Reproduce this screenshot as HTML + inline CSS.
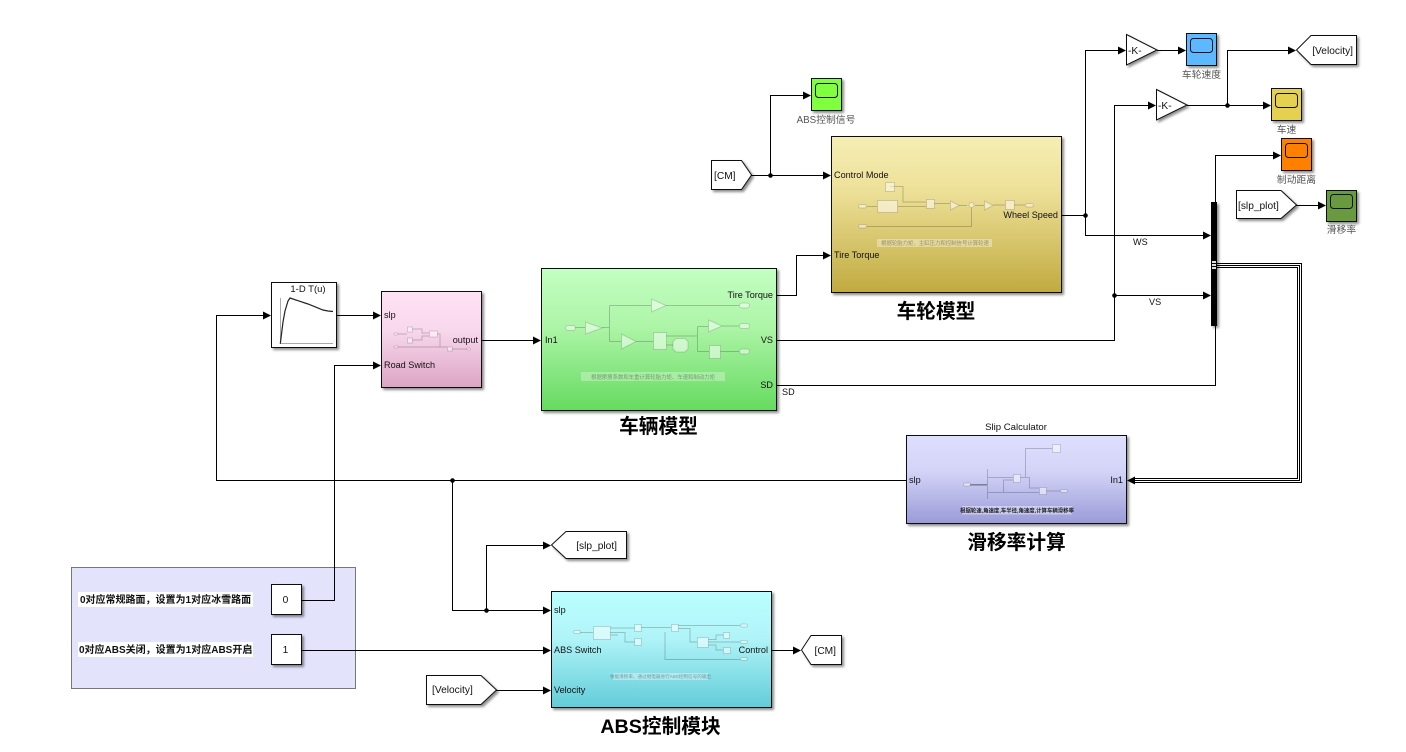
<!DOCTYPE html>
<html>
<head>
<meta charset="utf-8">
<style>
html,body{margin:0;padding:0;background:#fff;width:1406px;height:752px;overflow:hidden}
svg{display:block}
text{font-family:"Liberation Sans","Noto Sans CJK SC",sans-serif;font-size:9.1px;fill:#111}
.w{fill:none;stroke:#000;stroke-width:1}
.a{fill:#000;stroke:none}
.b{stroke:#111;stroke-width:1}
.k{font-size:10.2px}
.cap{font-size:9.8px;fill:#555;text-anchor:middle}
.title{font-size:19.7px;font-weight:bold;fill:#000;text-anchor:middle}
.note{font-size:10px;font-weight:bold;fill:#111}
.t{fill:#fff;fill-opacity:.5;stroke:#000;stroke-opacity:.14;stroke-width:1}
.tl{fill:none;stroke:#000;stroke-opacity:.2;stroke-width:1}
.mini{font-size:5.4px;fill:#000;fill-opacity:.35;text-anchor:middle}
</style>
</head>
<body>
<svg width="1406" height="752" viewBox="0 0 1406 752" xmlns="http://www.w3.org/2000/svg">
<defs>
<filter id="s" x="-10%" y="-10%" width="125%" height="125%">
<feDropShadow dx="2" dy="2" stdDeviation="1.4" flood-color="#000" flood-opacity=".45"/>
</filter>
<linearGradient id="gW" x1="0" y1="0" x2="0" y2="1"><stop offset="0" stop-color="#f5eeb4"/><stop offset=".35" stop-color="#ede098"/><stop offset="1" stop-color="#c0aa40"/></linearGradient>
<linearGradient id="gV" x1="0" y1="0" x2="0" y2="1"><stop offset="0" stop-color="#c2ffc2"/><stop offset=".4" stop-color="#aef5a8"/><stop offset="1" stop-color="#66da60"/></linearGradient>
<linearGradient id="gA" x1="0" y1="0" x2="0" y2="1"><stop offset="0" stop-color="#baffff"/><stop offset=".4" stop-color="#b0f4f8"/><stop offset="1" stop-color="#62ccd8"/></linearGradient>
<linearGradient id="gS" x1="0" y1="0" x2="0" y2="1"><stop offset="0" stop-color="#dedeff"/><stop offset=".4" stop-color="#d4d4f8"/><stop offset="1" stop-color="#9a9ad8"/></linearGradient>
<linearGradient id="gR" x1="0" y1="0" x2="0" y2="1"><stop offset="0" stop-color="#ffe2f4"/><stop offset=".4" stop-color="#f8d8ec"/><stop offset="1" stop-color="#dca4c4"/></linearGradient>
</defs>

<!-- panel -->
<rect x="71.5" y="567.5" width="284" height="121" fill="#e3e3fb" stroke="#777"/>
<rect x="78" y="592" width="175" height="15" fill="#fff"/>
<rect x="78" y="642" width="175" height="15" fill="#fff"/>
<text class="note" x="80" y="603">0对应常规路面，设置为1对应冰雪路面</text>
<text class="note" x="79" y="653">0对应ABS关闭，设置为1对应ABS开启</text>

<!-- blocks -->
<g filter="url(#s)">
<rect class="b" x="831.5" y="136.5" width="230" height="156" fill="url(#gW)"/>
<rect class="b" x="541.5" y="268.5" width="235" height="142" fill="url(#gV)"/>
<rect class="b" x="551.5" y="591.5" width="220" height="116" fill="url(#gA)"/>
<rect class="b" x="906.5" y="435.5" width="220" height="88" fill="url(#gS)"/>
<rect class="b" x="381.5" y="291.5" width="100" height="96" fill="url(#gR)"/>
<rect class="b" x="271.5" y="282.5" width="65" height="65" fill="#fff"/>
<rect class="b" x="271.5" y="584.5" width="30" height="30" fill="#fff"/>
<rect class="b" x="271.5" y="634.5" width="30" height="30" fill="#fff"/>
<rect class="b" x="811.5" y="78.5" width="30" height="32" fill="#80ff40"/>
<rect class="b" x="1186.5" y="33.5" width="30" height="32" fill="#5cb8ff"/>
<rect class="b" x="1271.5" y="88.5" width="30" height="32" fill="#e6d050"/>
<rect class="b" x="1281.5" y="138.5" width="30" height="32" fill="#ff8000"/>
<rect class="b" x="1326.5" y="190.5" width="30" height="31" fill="#6a9a40"/>
<polygon class="b" points="1126.5,34.5 1157,50 1126.5,65" fill="#fff"/>
<polygon class="b" points="1156.5,89.5 1187,105 1156.5,120" fill="#fff"/>
<polygon class="b" points="1296.5,50 1311,35.5 1356.5,35.5 1356.5,64.5 1311,64.5" fill="#fff"/>
<polygon class="b" points="1236.5,190.5 1281,190.5 1296.5,205 1281,218.5 1236.5,218.5" fill="#fff"/>
<polygon class="b" points="711.5,160.5 741.5,160.5 751.5,175 741.5,189.5 711.5,189.5" fill="#fff"/>
<polygon class="b" points="551.5,545 566,531.5 626.5,531.5 626.5,558.5 566,558.5" fill="#fff"/>
<polygon class="b" points="801.5,650 811,635.5 841.5,635.5 841.5,664.5 811,664.5" fill="#fff"/>
<polygon class="b" points="426.5,675.5 481,675.5 496.5,690 481,704.5 426.5,704.5" fill="#fff"/>
<rect x="1211" y="202" width="6" height="124" fill="#000"/>
</g>
<rect x="1212" y="261" width="4" height="2" fill="#ddd"/>
<rect x="1212" y="264" width="4" height="2" fill="#ddd"/>
<rect x="1212" y="267" width="4" height="2" fill="#ddd"/>

<!-- scope screens -->
<g fill="none" stroke="#111" stroke-width="1">
<rect x="815.5" y="83.5" width="22" height="14" rx="3" fill="#80ff40"/>
<rect x="1190.5" y="38.5" width="22" height="14" rx="3"/>
<rect x="1275.5" y="93.5" width="22" height="14" rx="3"/>
<rect x="1285.5" y="143.5" width="22" height="14" rx="3"/>
<rect x="1330.5" y="194.5" width="22" height="14" rx="3"/>
</g>

<!-- lookup plot -->
<path d="M280.5 298V343.5H333" fill="none" stroke="#aaa"/>
<path d="M280.3 343.7 L283 322 L285 311 L288 301 L290 298 L298 300.7 L308 304 L323 310 L328 311 L333 311.5" fill="none" stroke="#222" stroke-width="1.2"/>
<text x="308" y="292" text-anchor="middle" style="font-size:9.5px">1-D T(u)</text>

<!-- wires -->
<g class="w">
<path d="M336 315.5H375"/>
<path d="M906 480.5H216.5V315.5H265"/>
<path d="M452.5 480.5V610.5H545"/>
<path d="M486.5 610.5V545.5H545"/>
<path d="M301 600.5H334.5V365.5H375"/>
<path d="M301 650.5H545"/>
<path d="M496 690.5H545"/>
<path d="M771 650.5H795"/>
<path d="M481 340.5H535"/>
<path d="M776 295.5H796.5V255.5H825"/>
<path d="M751 175.5H825"/>
<path d="M770.5 175.5V95.5H805"/>
<path d="M1061 215.5H1085.5"/>
<path d="M1085.5 215.5V50.5H1120"/>
<path d="M1085.5 215.5V235.5H1205"/>
<path d="M776 340.5H1114.5V105.5H1150"/>
<path d="M1114.5 295.5H1205"/>
<path d="M776 385.5H1215.5V326"/>
<path d="M1215.5 202V155.5H1275"/>
<path d="M1157 50.5H1180"/>
<path d="M1187 105.5H1265"/>
<path d="M1227.5 105.5V50.5H1290"/>
<path d="M1296 205.5H1320"/>
<path d="M1217 263.5H1301.5V482.5H1134M1217 265.5H1299.5V480.5H1134M1217 267.5H1297.5V478.5H1134"/>
</g>
<g class="a">
<polygon points="381,315.5 373,311.5 373,319.5"/>
<polygon points="271,315.5 263,311.5 263,319.5"/>
<polygon points="381,365.5 373,361.5 373,369.5"/>
<polygon points="541,340.5 533,336.5 533,344.5"/>
<polygon points="551,610.5 543,606.5 543,614.5"/>
<polygon points="551,545.5 543,541.5 543,549.5"/>
<polygon points="551,650.5 543,646.5 543,654.5"/>
<polygon points="551,690.5 543,686.5 543,694.5"/>
<polygon points="801,650.5 793,646.5 793,654.5"/>
<polygon points="831,255.5 823,251.5 823,259.5"/>
<polygon points="831,175.5 823,171.5 823,179.5"/>
<polygon points="811,95.5 803,91.5 803,99.5"/>
<polygon points="1126,50.5 1118,46.5 1118,54.5"/>
<polygon points="1156,105.5 1148,101.5 1148,109.5"/>
<polygon points="1186,50.5 1178,46.5 1178,54.5"/>
<polygon points="1271,105.5 1263,101.5 1263,109.5"/>
<polygon points="1296,50.5 1288,46.5 1288,54.5"/>
<polygon points="1281,155.5 1273,151.5 1273,159.5"/>
<polygon points="1326,205.5 1318,201.5 1318,209.5"/>
<polygon points="1211,235.5 1203,231.5 1203,239.5"/>
<polygon points="1211,295.5 1203,291.5 1203,299.5"/>
<polygon points="1127,480.5 1135,476.5 1135,484.5"/>
<circle cx="452.5" cy="480.5" r="2.3"/>
<circle cx="486.5" cy="610.5" r="2.3"/>
<circle cx="770.5" cy="175.5" r="2.3"/>
<circle cx="1085.5" cy="215.5" r="2.3"/>
<circle cx="1114.5" cy="295.5" r="2.3"/>
<circle cx="1227.5" cy="105.5" r="2.3"/>
</g>

<!-- wheel thumbnail -->
<g>
<path class="tl" d="M867 206.5H877M898 206.5H926M890 186.5H903V202H926M934 203.5H950M959 205.5H967M975 205.5H984M993 205H1005M1014 205H1025M867 226.5H971.5V208"/>
<rect class="t" x="877.5" y="200.5" width="20" height="12"/>
<rect class="t" x="885.5" y="182.5" width="9" height="9"/>
<rect class="t" x="926.5" y="199.5" width="8" height="9"/>
<rect class="t" x="1005.5" y="200.5" width="9" height="9"/>
<polygon class="t" points="950.5,201 959,205.5 950.5,210"/>
<polygon class="t" points="984.5,201 993,205.5 984.5,210"/>
<circle class="t" cx="971.5" cy="205" r="2.5"/>
<rect class="t" x="858.5" y="204.5" width="8" height="3.5" rx="1.7"/>
<rect class="t" x="858.5" y="224.5" width="8" height="3.5" rx="1.7"/>
<rect class="t" x="1025.5" y="203.5" width="8" height="3.5" rx="1.7"/>
<rect x="877" y="239" width="115" height="8" fill="#fff" fill-opacity=".35"/>
<text class="mini" x="935" y="245">根据轮胎力矩、主缸压力和控制信号计算轮速</text>
</g>

<!-- vehicle thumbnail -->
<g>
<path class="tl" d="M575 327.5H585M602 327.5H609.5M609.5 305.5V341.5M609.5 305.5H651M609.5 341.5H621M666 305.5H739M636 341.5H653M666 336H697.5M666 345H673M697.5 326.5V351.5M697.5 326.5H708M697.5 351.5H709M722 326H739M720 351.5H739"/>
<rect class="t" x="653.5" y="332.5" width="13" height="17"/>
<polygon class="t" points="676,338.5 685,338.5 688,341.5 688,349 685,352 676,352 673,349 673,341.5"/>
<rect class="t" x="709.5" y="345.5" width="11" height="13"/>
<polygon class="t" points="585.5,322 602,328 585.5,334"/>
<polygon class="t" points="651.5,299 666,305.5 651.5,312"/>
<polygon class="t" points="621.5,334 636,341.5 621.5,349"/>
<polygon class="t" points="708.5,320 722,326 708.5,332"/>
<rect class="t" x="565.5" y="325.5" width="10" height="5" rx="2.5"/>
<rect class="t" x="739.5" y="303" width="10" height="5" rx="2.5"/>
<rect class="t" x="739.5" y="323.5" width="10" height="5" rx="2.5"/>
<rect class="t" x="739.5" y="349" width="10" height="5" rx="2.5"/>
<rect x="581" y="372" width="144" height="9" fill="#fff" fill-opacity=".3"/>
<text class="mini" x="653" y="379">根据摩擦系数和车重计算轮胎力矩、车速和制动力矩</text>
</g>

<!-- ABS thumbnail -->
<g>
<path class="tl" d="M580 632.5H593M610 628H635M610 632.5H625V642H635M610 635H618M641 627.5H671M678 625.5H740M678 628.5H690V642H697M708 639.5H716V635H723M708 642H740M708 645H716V650H723M665 632V659.5H740"/>
<rect class="t" x="593.5" y="626.5" width="17" height="13"/>
<rect class="t" x="634.5" y="624.5" width="7" height="7"/>
<rect class="t" x="634.5" y="638.5" width="7" height="7"/>
<rect class="t" x="671.5" y="624.5" width="7" height="7"/>
<rect class="t" x="697.5" y="637.5" width="11" height="10"/>
<rect class="t" x="723.5" y="632.5" width="6" height="6"/>
<rect class="t" x="723.5" y="647.5" width="7" height="6"/>
<rect class="t" x="573.5" y="630.5" width="7" height="3" rx="1.5"/>
<rect class="t" x="740.5" y="624" width="7" height="3" rx="1.5"/>
<rect class="t" x="740.5" y="640.5" width="7" height="3" rx="1.5"/>
<rect class="t" x="740.5" y="657.5" width="7" height="3" rx="1.5"/>
<rect x="613" y="673" width="95" height="7" fill="#fff" fill-opacity=".35"/>
<text class="mini" x="660.5" y="678" style="font-size:4.6px">根据滑移率、通过继电器进行ABS控制信号的输出</text>
</g>

<!-- slip thumbnail -->
<g>
<path class="tl" d="M987.5 469V499M987.5 477.5H1013M987.5 492.5H1039M1003.5 492.5V480H1013M1020 477.5H1029.5V488H1039M1025.5 477.5V448.5H1052M1046 491H1060"/>
<rect x="970" y="484" width="17" height="1.6" fill="#000" fill-opacity=".35"/>
<rect class="t" x="1013.5" y="474.5" width="7" height="8"/>
<rect class="t" x="1039.5" y="487.5" width="7" height="7"/>
<rect class="t" x="1052.5" y="444.5" width="8" height="8"/>
<rect class="t" x="963.5" y="483" width="7" height="3" rx="1.5"/>
<rect class="t" x="1060.5" y="489.5" width="7" height="3" rx="1.5"/>
<rect x="962" y="506" width="110" height="8.5" fill="#fff" fill-opacity=".4"/>
<text class="mini" x="1017" y="512.5" style="fill-opacity:.85;font-weight:bold">根据轮速,角速度,车半径,角速度,计算车辆滑移率</text>
</g>

<!-- road thumbnail -->
<g>
<path class="tl" d="M398 334H407M398 347H447M412 329H422V333H429M412 340H422V336H429M437 334H440V347M452 349H467"/>
<rect class="t" x="407.5" y="327" width="5" height="5"/>
<rect class="t" x="407.5" y="338" width="5" height="5"/>
<rect class="t" x="429.5" y="331" width="8" height="6"/>
<rect class="t" x="447.5" y="347" width="5" height="4"/>
<rect class="t" x="394" y="333" width="4" height="2" rx="1"/>
<rect class="t" x="394" y="346" width="4" height="2" rx="1"/>
<rect class="t" x="467" y="348" width="3.5" height="2" rx="1"/>
</g>

<!-- port labels -->
<text x="834" y="178">Control Mode</text>
<text x="834" y="258">Tire Torque</text>
<text x="1058" y="218" text-anchor="end">Wheel Speed</text>
<text x="545" y="343">In1</text>
<text x="773" y="298" text-anchor="end">Tire Torque</text>
<text x="773" y="343" text-anchor="end">VS</text>
<text x="773" y="388" text-anchor="end">SD</text>
<text x="384" y="318">slp</text>
<text x="384" y="368">Road Switch</text>
<text x="478" y="343" text-anchor="end">output</text>
<text x="909" y="483">slp</text>
<text x="1123" y="483" text-anchor="end">In1</text>
<text x="554" y="613">slp</text>
<text x="554" y="653">ABS Switch</text>
<text x="554" y="693">Velocity</text>
<text x="768" y="653" text-anchor="end">Control</text>

<!-- block text -->
<text class="k" x="285.5" y="603" text-anchor="middle">0</text>
<text class="k" x="285.5" y="653" text-anchor="middle">1</text>
<text class="k" x="1128" y="54">-K-</text>
<text class="k" x="1158" y="109">-K-</text>
<text class="k" x="1353" y="54" text-anchor="end">[Velocity]</text>
<text class="k" x="1238" y="209">[slp_plot]</text>
<text class="k" x="714" y="179">[CM]</text>
<text class="k" x="617" y="549" text-anchor="end">[slp_plot]</text>
<text class="k" x="836" y="654" text-anchor="end">[CM]</text>
<text class="k" x="432" y="693">[Velocity]</text>

<!-- signal labels -->
<text x="1133" y="245">WS</text>
<text x="1149" y="305">VS</text>
<text x="782" y="395">SD</text>
<text x="1016" y="430" text-anchor="middle" style="font-size:9.6px">Slip Calculator</text>

<!-- captions -->
<text class="cap" x="826" y="123">ABS控制信号</text>
<text class="cap" x="1201.5" y="78">车轮速度</text>
<text class="cap" x="1286.5" y="133">车速</text>
<text class="cap" x="1296.5" y="183">制动距离</text>
<text class="cap" x="1341.5" y="233">滑移率</text>

<!-- titles -->
<text class="title" x="936" y="318">车轮模型</text>
<text class="title" x="658.5" y="433">车辆模型</text>
<text class="title" x="1016.5" y="549">滑移率计算</text>
<text class="title" x="660.5" y="733">ABS控制模块</text>
</svg>
</body>
</html>
